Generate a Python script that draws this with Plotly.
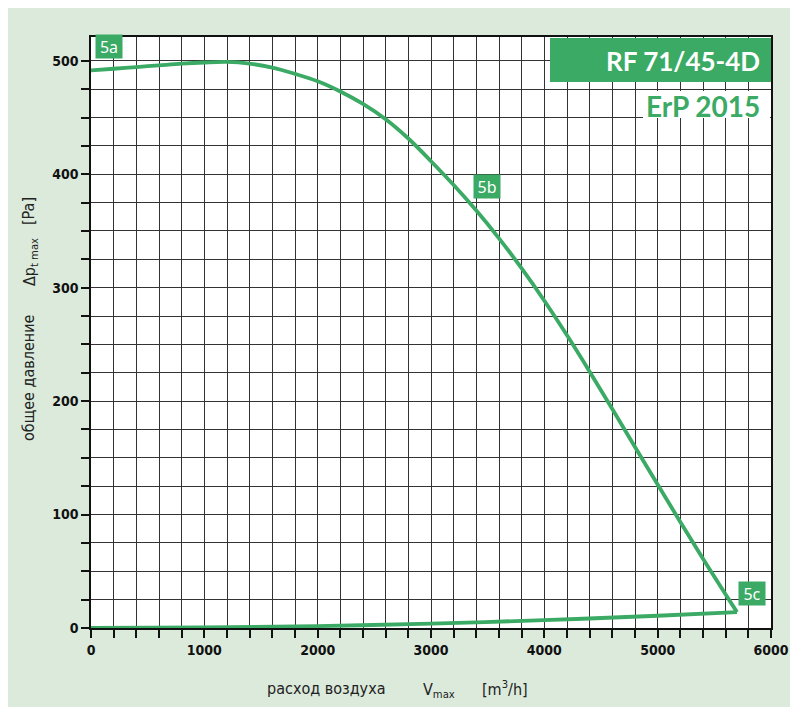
import plotly.graph_objects as go

# Fan curve (Pa vs m3/h)
fan_x = [0, 200, 400, 600, 800, 1000, 1200, 1400, 1600, 1800, 2000, 2200, 2400, 2600, 2800,
         3000, 3200, 3400, 3600, 3800, 4000, 4200, 4400, 4600, 4800, 5000, 5200, 5400, 5600, 5700]
fan_y = [491.5, 493, 494.5, 496, 497.5, 498.5, 499, 497.5, 494, 488.5, 482, 473, 462, 448.5, 431.5,
         411.5, 390.5, 368, 343.5, 317, 288.5, 258, 226, 193, 159.5, 126.5, 93.5, 61, 29.5, 14]
# System curve back to origin
sys_x = [0, 1000, 2000, 3000, 4000, 5000, 5700]
sys_y = [0, 0.5, 1.7, 3.9, 6.9, 10.8, 14]

labels = ["5a", "5b", "5c"]
label_x = [156, 3490, 5832]
label_y = [512.6, 389, 30]

x_ticks = [0, 1000, 2000, 3000, 4000, 5000, 6000]
y_ticks = [0, 100, 200, 300, 400, 500]

GREEN = "#3aaa64"
BG = "#dbeadb"
GRID = "#333333"

OFF = 8  # page body margin offset
L, R, T, B = 91 - OFF, 771 - OFF, 37 - OFF, 628 - OFF
W, H = 798, 707
def px(X):
    return (X - OFF - L) / (R - L)
def py(Y):
    return (B - (Y - OFF)) / (B - T)

fig = go.Figure()
fig.add_trace(go.Scatter(x=fan_x, y=fan_y, mode="lines", line=dict(color=GREEN, width=3.8, shape="spline", smoothing=1.0),
                         hoverinfo="skip", showlegend=False))
fig.add_trace(go.Scatter(x=sys_x, y=sys_y, mode="lines", line=dict(color=GREEN, width=3.8, shape="spline", smoothing=1.0),
                         hoverinfo="skip", showlegend=False))

tickfont = dict(family="DejaVu Sans Condensed, DejaVu Sans", size=14, color="#111", weight="bold")
TITLEFONT = "DejaVu Sans Condensed, DejaVu Sans"

fig.update_xaxes(range=[0, 6000], tickvals=x_ticks, ticktext=[str(v) for v in x_ticks],
                 showgrid=True, gridcolor=GRID, gridwidth=1, automargin=False,
                 minor=dict(dtick=200, showgrid=True, gridcolor=GRID, gridwidth=1, ticks="outside", ticklen=8, tickcolor="#111"),
                 ticks="outside", ticklen=8, tickcolor="#111", tickwidth=1.5,
                 showline=True, linecolor="#111", linewidth=1.5, mirror=True, zeroline=False,
                 tickfont=tickfont)
fig.update_yaxes(range=[0, 521], tickvals=y_ticks, ticktext=[str(v) for v in y_ticks],
                 showgrid=True, gridcolor=GRID, gridwidth=1, automargin=False,
                 minor=dict(dtick=25, showgrid=True, gridcolor=GRID, gridwidth=1, ticks="outside", ticklen=8, tickcolor="#111"),
                 ticks="outside", ticklen=8, tickcolor="#111", tickwidth=1.5,
                 showline=True, linecolor="#111", linewidth=1.5, mirror=True, zeroline=False,
                 tickfont=tickfont)

shapes = [
    # title box
    dict(type="rect", xref="paper", yref="paper", x0=px(550), x1=px(771), y0=py(82), y1=py(38),
         fillcolor=GREEN, line=dict(width=0), layer="above"),
    # white box behind ErP
    dict(type="rect", xref="paper", yref="paper", x0=px(643), x1=px(770), y0=py(118), y1=py(91),
         fillcolor="white", line=dict(width=0), layer="above"),
]

annotations = [
    dict(text="<b>RF 71/45-4D</b>", xref="paper", yref="paper", x=px(762), y=py(61), xanchor="right", yanchor="middle",
         showarrow=False, font=dict(family="Lato, Open Sans", size=26, color="white")),
    dict(text="<b>ErP 2015</b>", xref="paper", yref="paper", x=px(762), y=py(106), xanchor="right", yanchor="middle",
         showarrow=False, font=dict(family="Lato, Open Sans", size=28, color=GREEN)),
    # axis titles
    dict(text="расход воздуха", xref="paper", yref="paper", x=px(326), y=py(688), xanchor="center", yanchor="middle",
         showarrow=False, font=dict(family=TITLEFONT, size=16, color="#222")),
    dict(text="V<sub>max</sub>", xref="paper", yref="paper", x=px(421), y=py(690), xanchor="left", yanchor="middle",
         showarrow=False, font=dict(family=TITLEFONT, size=16, color="#222")),
    dict(text="[m<sup>3</sup>/h]", xref="paper", yref="paper", x=px(480), y=py(688), xanchor="left", yanchor="middle",
         showarrow=False, font=dict(family=TITLEFONT, size=16, color="#222")),
    dict(text="общее давление", xref="paper", yref="paper", x=px(28), y=py(378), xanchor="center", yanchor="middle",
         textangle=-90, showarrow=False, font=dict(family=TITLEFONT, size=16, color="#222")),
    dict(text="Δp<sub>t max</sub>", xref="paper", yref="paper", x=px(30), y=py(262), xanchor="center", yanchor="middle",
         textangle=-90, showarrow=False, font=dict(family=TITLEFONT, size=16, color="#222")),
    dict(text="[Pa]", xref="paper", yref="paper", x=px(28), y=py(211), xanchor="center", yanchor="middle",
         textangle=-90, showarrow=False, font=dict(family=TITLEFONT, size=16, color="#222")),
]
for t, lx, ly in zip(labels, label_x, label_y):
    annotations.append(dict(text=t, x=lx, y=ly, xref="x", yref="y", showarrow=False,
                            font=dict(family="Noto Sans, Open Sans", size=16, color="white"),
                            bgcolor=GREEN, borderpad=2, width=22, height=19, xanchor="center", yanchor="middle"))

fig.update_layout(width=W, height=H, margin=dict(l=L, r=W - R, t=T, b=H - B, pad=0, autoexpand=False),
                  paper_bgcolor=BG, plot_bgcolor="white", shapes=shapes, annotations=annotations,
                  showlegend=False)

fig.write_html("out.html")
